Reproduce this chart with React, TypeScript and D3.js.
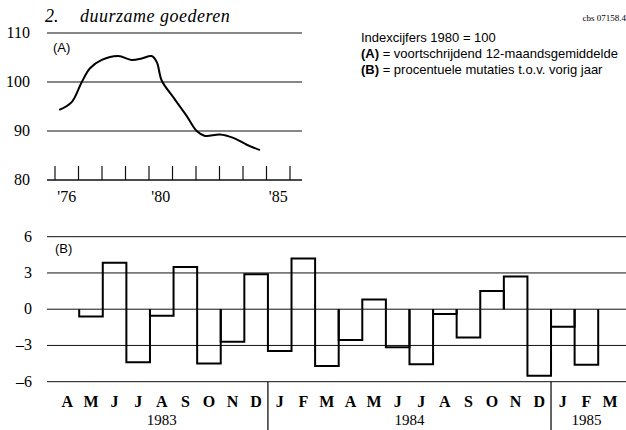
import * as d3 from 'd3';

// (A) 12-month moving average, index 1980 = 100
const yearsA = [1976.18, 1976.71, 1977.14, 1977.49, 1977.99, 1978.69, 1979.26, 1979.69, 1980.11, 1980.33, 1980.54, 1981.03, 1981.6, 1982.03, 1982.38, 1983.02, 1983.59, 1984.16, 1984.72];
const valuesA = [94.3, 95.9, 100.0, 102.8, 104.5, 105.3, 104.5, 104.8, 105.3, 104.1, 100.3, 96.9, 93.1, 90.0, 89.0, 89.3, 88.6, 87.2, 86.1];
const ticksA = [80, 90, 100, 110];
const yearLabelsA = [{ year: 1976, label: "'76" }, { year: 1980, label: "'80" }, { year: 1985, label: "'85" }];

// (B) % change vs previous year, Apr 1983 - Mar 1985
const monthLetters = ['A', 'M', 'J', 'J', 'A', 'S', 'O', 'N', 'D', 'J', 'F', 'M', 'A', 'M', 'J', 'J', 'A', 'S', 'O', 'N', 'D', 'J', 'F', 'M'];
const valuesB: (number | null)[] = [null, -0.6, 3.85, -4.4, -0.55, 3.5, -4.5, -2.7, 2.9, -3.45, 4.2, -4.7, -2.55, 0.8, -3.15, -4.55, -0.4, -2.35, 1.5, 2.7, -5.5, -1.45, -4.6, null];
const yearsB = [{ label: '1983', from: 0, to: 8 }, { label: '1984', from: 9, to: 20 }, { label: '1985', from: 21, to: 23 }];
const ticksB = [-6, -3, 0, 3, 6];

const serif = "'Liberation Serif', 'DejaVu Serif', serif";
const sans = "'Liberation Sans', Arial, sans-serif";

export default function App() {
  const width = 626;
  const height = 430;

  // scales for (A)
  const xA = d3.scaleLinear().domain([1976, 1986]).range([55, 290]);
  const yA = d3.scaleLinear().domain([80, 110]).range([180, 33]);
  const lineA = d3
    .line<number>()
    .x((d, i) => xA(yearsA[i]))
    .y((d) => yA(d))
    .curve(d3.curveCatmullRom);
  const yearTicks = d3.range(1976, 1987);

  // scales for (B)
  const idx = monthLetters.map((m, i) => i);
  const xB = d3.scaleBand<number>().domain(idx).range([55.6, 621.8]).padding(0);
  const yB = d3.scaleLinear().domain([-6, 6]).range([381.7, 236.7]);
  const bw = xB.bandwidth();

  const fmtB = (v: number) => (v < 0 ? '–' + Math.abs(v) : String(v));

  return (
    <svg width={width} height={height} style={{ position: 'absolute', left: 0, top: 0 }}>
      <rect width={width} height={height} fill="#fff" />

      {/* title */}
      <text x={45} y={22} fontFamily={serif} fontStyle="italic" fontSize={18}>2.</text>
      <text x={80} y={22} fontFamily={serif} fontStyle="italic" fontSize={18} letterSpacing={0.5}>duurzame goederen</text>
      <text x={626} y={21} textAnchor="end" fontFamily={serif} fontSize={9}>cbs   07158.4</text>

      {/* legend text */}
      <g fontFamily={sans} fontSize={13} fill="#000">
        <text x={361} y={42}>Indexcijfers 1980 = 100</text>
        <text x={361} y={58}><tspan fontWeight="bold">(A)</tspan> = voortschrijdend 12-maandsgemiddelde</text>
        <text x={361} y={74}><tspan fontWeight="bold">(B)</tspan> = procentuele mutaties t.o.v. vorig jaar</text>
      </g>

      {/* chart A */}
      {ticksA.map((t) => (
        <g key={t}>
          <line x1={47} x2={302} y1={yA(t)} y2={yA(t)} stroke="#111" strokeWidth={t === 80 ? 1.3 : 1} />
          <text x={30} y={yA(t) + 5} textAnchor="end" fontFamily={serif} fontSize={16}>{t}</text>
        </g>
      ))}
      {yearTicks.map((y) => (
        <line key={y} x1={xA(y)} x2={xA(y)} y1={166} y2={180} stroke="#111" strokeWidth={1.2} />
      ))}
      {yearLabelsA.map((d) => (
        <text key={d.year} x={xA(d.year + 0.5)} y={202} textAnchor="middle" fontFamily={serif} fontSize={16}>{d.label}</text>
      ))}
      <text x={53} y={52} fontFamily={sans} fontSize={13}>(A)</text>
      <path d={lineA(valuesA) || ''} fill="none" stroke="#000" strokeWidth={2} />

      {/* chart B */}
      {ticksB.map((t) => (
        <g key={t}>
          <line x1={47} x2={626} y1={yB(t)} y2={yB(t)} stroke="#111" strokeWidth={1} />
          <text x={32} y={yB(t) + 5} textAnchor="end" fontFamily={serif} fontSize={16}>{fmtB(t)}</text>
        </g>
      ))}
      <text x={55} y={253} fontFamily={sans} fontSize={13}>(B)</text>
      {valuesB.map((v, i) => {
        if (v === null) return null;
        const x0 = xB(i) as number;
        const x1 = x0 + bw;
        const y0 = yB(0);
        const yv = yB(v);
        return <path key={i} d={`M${x0},${y0}V${yv}H${x1}V${y0}`} fill="none" stroke="#000" strokeWidth={2} />;
      })}
      {monthLetters.map((m, i) => (
        <text key={i} x={(xB(i) as number) + bw / 2} y={407} textAnchor="middle" fontFamily={serif} fontSize={16} fontWeight="bold">{m}</text>
      ))}
      {yearsB.slice(1).map((d) => (
        <line key={d.label} x1={xB(d.from) as number} x2={xB(d.from) as number} y1={yB(-6)} y2={430} stroke="#000" strokeWidth={1.2} />
      ))}
      {yearsB.map((d) => {
        const a = xB(d.from) as number;
        const b = (xB(d.to) as number) + bw;
        return (
          <text key={d.label} x={(a + b) / 2} y={425} textAnchor="middle" fontFamily={serif} fontSize={15}>{d.label}</text>
        );
      })}
    </svg>
  );
}
